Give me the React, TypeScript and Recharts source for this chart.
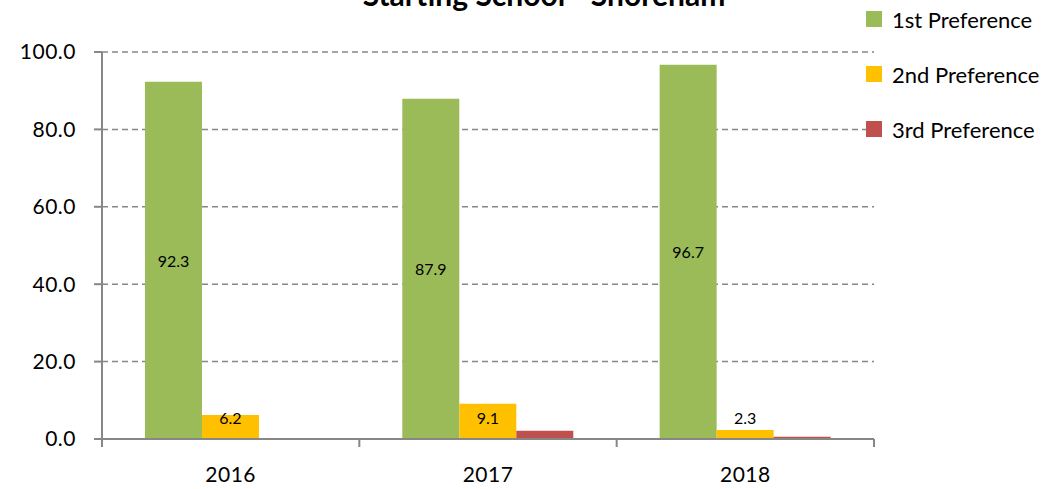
import { BarChart, Bar, XAxis, YAxis, CartesianGrid, LabelList } from "recharts";

const YEARS = ["2016", "2017", "2018"];
const FIRST_PREF = [92.3, 87.9, 96.7];
const SECOND_PREF = [6.2, 9.1, 2.3];
const THIRD_PREF = [0.1, 2.1, 0.6];
const Y_TICKS = [0, 20, 40, 60, 80, 100];

const SERIES = [
  { key: "first", name: "1st Preference", color: "#9BBB59" },
  { key: "second", name: "2nd Preference", color: "#FFC000" },
  { key: "third", name: "3rd Preference", color: "#C0504D" },
];

const data = YEARS.map((year, i) => ({
  year,
  first: FIRST_PREF[i],
  second: SECOND_PREF[i],
  third: THIRD_PREF[i],
}));

const W = 1064;
const H = 489;
const MARGIN = { top: 52, right: 190, bottom: 0, left: 0 };
const Y_AXIS_W = 102;
const X_AXIS_H = 50;
const FONT = "Lato, 'Open Sans', sans-serif";
const AXIS_GREY = "#878787";

const bandHalf = (W - MARGIN.right - Y_AXIS_W) / YEARS.length / 2;

// Excel-style label: centred in the bar but kept clear of the axis
// eslint-disable-next-line @typescript-eslint/no-explicit-any
function BarLabel(props: any) {
  const { x, y, width, height, value } = props;
  const bottom = y + height;
  const cy = Math.min(y + height / 2, bottom - 22);
  return (
    <text
      x={x + width / 2}
      y={cy}
      textAnchor="middle"
      dominantBaseline="central"
      fontFamily={FONT}
      fontSize={16}
      fill="#000"
    >
      {value.toFixed(1)}
    </text>
  );
}

// ticks between categories, like Excel
// eslint-disable-next-line @typescript-eslint/no-explicit-any
function YearTick(props: any) {
  const { x, y, payload, index } = props;
  const isLast = index === YEARS.length - 1;
  return (
    <g>
      <line x1={x - bandHalf} y1={y - 8} x2={x - bandHalf} y2={y} stroke={AXIS_GREY} strokeWidth={2} />
      {isLast && (
        <line x1={x + bandHalf} y1={y - 8} x2={x + bandHalf} y2={y} stroke={AXIS_GREY} strokeWidth={2} />
      )}
      <text
        x={x}
        y={y + 26}
        textAnchor="middle"
        dominantBaseline="central"
        fontFamily={FONT}
        fontSize={21}
        letterSpacing={0.5}
        fill="#000"
      >
        {payload.value}
      </text>
    </g>
  );
}

export default function App() {
  return (
    <div style={{ position: "absolute", left: 0, top: 0, width: W, height: H, background: "#fff", overflow: "hidden" }}>
      <BarChart width={W} height={H} data={data} margin={MARGIN} barGap={0} barCategoryGap="16.7%">
        <CartesianGrid vertical={false} stroke={AXIS_GREY} strokeDasharray="6 4" strokeWidth={1.5} />
        <XAxis
          dataKey="year"
          height={X_AXIS_H}
          axisLine={{ stroke: AXIS_GREY, strokeWidth: 2 }}
          tickLine={false}
          tick={<YearTick />}
          interval={0}
        />
        <YAxis
          width={Y_AXIS_W}
          domain={[0, 100]}
          ticks={Y_TICKS}
          tickFormatter={(v: number) => v.toFixed(1)}
          axisLine={{ stroke: AXIS_GREY, strokeWidth: 2 }}
          tickLine={{ stroke: AXIS_GREY, strokeWidth: 2 }}
          tickSize={8}
          tickMargin={18}
          tick={{ fill: "#000", fontSize: 21, fontFamily: FONT, letterSpacing: 0.5 }}
        />
        <Bar dataKey="first" name="1st Preference" fill="#9BBB59" isAnimationActive={false}>
          <LabelList dataKey="first" content={<BarLabel />} />
        </Bar>
        <Bar dataKey="second" name="2nd Preference" fill="#FFC000" isAnimationActive={false}>
          <LabelList dataKey="second" content={<BarLabel />} />
        </Bar>
        <Bar dataKey="third" name="3rd Preference" fill="#C0504D" isAnimationActive={false} />
      </BarChart>

      <svg width={W} height={40} style={{ position: "absolute", left: 0, top: 0 }}>
        <text x={544} y={6} textAnchor="middle" fontFamily={FONT} fontWeight={700} fontSize={30} fill="#000">
          Starting School - Shoreham
        </text>
      </svg>

      <div style={{ position: "absolute", left: 866, top: 5, fontFamily: FONT, fontSize: 22, color: "#000" }}>
        {SERIES.map((s) => (
          <div key={s.key} style={{ display: "flex", alignItems: "center", height: 28, marginBottom: 27 }}>
            <span style={{ width: 16, height: 16, background: s.color, display: "inline-block", marginRight: 10 }} />
            {s.name}
          </div>
        ))}
      </div>
    </div>
  );
}
